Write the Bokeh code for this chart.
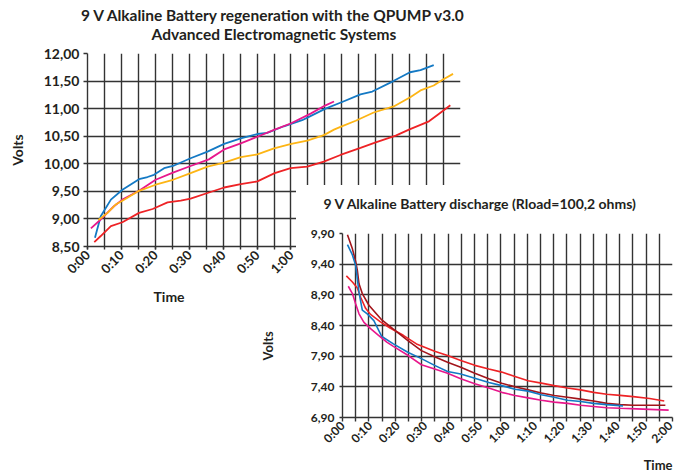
from math import pi
from bokeh.plotting import figure
from bokeh.models import FixedTicker, Title, Range1d, Div
from bokeh.layouts import column
from bokeh.embed import file_html
from bokeh.resources import INLINE

FONT = "Lato"
TEXT = "#231f20"
GRID = "#333333"

# ---------------- top chart: regeneration (time in minutes, volts) ----------------
regen_blue_t = [2.2, 3.9, 6.9, 10.3, 15.2, 17.7, 19.6, 22.6, 25.2, 30.4, 35.4, 40.3, 45.2, 50.1,
                53.0, 57.9, 63.3, 65.6, 70.2, 75.1, 80.5, 84.0, 90.2, 95.1, 98.2, 102.1]
regen_blue_v = [8.66, 9.05, 9.35, 9.53, 9.72, 9.76, 9.80, 9.92, 9.96, 10.10, 10.22, 10.36, 10.46, 10.54,
                10.56, 10.68, 10.79, 10.86, 11.00, 11.12, 11.26, 11.31, 11.50, 11.66, 11.70, 11.79]

regen_magenta_t = [1.0, 3.9, 7.8, 10.3, 15.2, 20.1, 25.2, 30.4, 35.8, 40.3, 45.2, 50.1, 55.2, 59.9,
                   65.8, 70.2, 72.7]
regen_magenta_v = [8.83, 8.99, 9.23, 9.35, 9.51, 9.71, 9.84, 9.96, 10.08, 10.26, 10.37, 10.49, 10.62, 10.73,
                   10.91, 11.06, 11.13]

regen_orange_t = [3.2, 5.9, 8.3, 10.3, 15.2, 20.1, 25.2, 30.4, 35.4, 40.3, 45.2, 50.1, 55.0, 60.1,
                  64.8, 69.7, 72.7, 74.6, 79.1, 84.4, 90.3, 95.3, 98.2, 102.1, 104.6, 107.8]
regen_orange_v = [8.98, 9.11, 9.26, 9.33, 9.51, 9.62, 9.71, 9.83, 9.95, 10.02, 10.12, 10.17, 10.28, 10.36,
                  10.42, 10.52, 10.62, 10.67, 10.78, 10.93, 11.04, 11.21, 11.33, 11.42, 11.52, 11.63]

regen_red_t = [2.0, 3.9, 6.9, 10.3, 15.2, 19.2, 23.6, 27.5, 30.4, 35.4, 40.3, 45.2, 50.1, 55.2,
               59.9, 64.8, 69.7, 74.6, 80.5, 85.0, 90.9, 94.8, 100.7, 103.5, 107.0]
regen_red_v = [8.58, 8.69, 8.87, 8.94, 9.11, 9.18, 9.30, 9.33, 9.37, 9.47, 9.57, 9.63, 9.68, 9.83,
               9.92, 9.95, 10.04, 10.16, 10.29, 10.39, 10.51, 10.62, 10.77, 10.90, 11.06]

top_y_ticks = [8.5, 9.0, 9.5, 10.0, 10.5, 11.0, 11.5, 12.0]
top_y_labels = ["8,50", "9,00", "9,50", "10,00", "10,50", "11,00", "11,50", "12,00"]
top_x_ticks = [0, 10, 20, 30, 40, 50, 60, 70, 80, 90, 100, 110]
top_x_labels = ["0:00", "0:10", "0:20", "0:30", "0:40", "0:50", "1:00", "1:10", "1:20", "1:30", "1:40", "1:50"]

# ---------------- bottom chart: discharge ----------------
dis_darkred_t = [1.8, 3.6, 4.8, 5.4, 6.0, 7.2, 9.6, 14.3, 18.5, 23.9, 28.7, 33.5, 38.2, 43.0, 48.1,
                 53.2, 57.9, 62.7, 67.5, 72.3, 77.0, 81.8, 86.6, 91.3, 96.1, 100.9, 105.7, 117.4]
dis_darkred_v = [9.88, 9.65, 9.44, 9.30, 9.08, 8.92, 8.73, 8.49, 8.34, 8.15, 7.99, 7.89, 7.80, 7.72, 7.62,
                 7.53, 7.46, 7.40, 7.35, 7.30, 7.26, 7.23, 7.20, 7.17, 7.13, 7.11, 7.10, 7.10]

dis_red_t = [1.4, 3.6, 5.4, 6.6, 8.4, 10.2, 13.8, 17.3, 22.1, 26.9, 33.5, 38.2, 43.0, 48.1, 53.2,
             57.9, 62.7, 67.5, 72.3, 77.0, 81.8, 86.6, 91.3, 96.1, 100.9, 105.7, 111.7, 117.0]
dis_red_v = [9.21, 9.11, 9.01, 8.86, 8.68, 8.58, 8.46, 8.36, 8.24, 8.10, 7.98, 7.91, 7.83, 7.75, 7.69,
             7.64, 7.57, 7.50, 7.46, 7.42, 7.38, 7.35, 7.31, 7.28, 7.26, 7.24, 7.21, 7.17]

dis_blue_t = [1.8, 3.6, 4.8, 5.4, 6.0, 7.2, 9.0, 11.4, 14.3, 18.5, 23.9, 28.7, 33.5, 38.2, 43.0,
              48.1, 53.2, 57.9, 62.7, 67.5, 72.3, 77.0, 81.8, 86.6, 91.3, 96.1, 102.0]
dis_blue_v = [9.72, 9.55, 9.38, 9.16, 8.94, 8.65, 8.59, 8.48, 8.22, 8.10, 7.96, 7.86, 7.75, 7.65, 7.61,
              7.54, 7.47, 7.42, 7.36, 7.33, 7.27, 7.23, 7.18, 7.16, 7.13, 7.11, 7.09]

dis_magenta_t = [2.1, 3.6, 4.8, 6.0, 7.8, 10.2, 13.1, 16.1, 18.5, 23.9, 28.7, 33.5, 38.2, 43.0, 48.1,
                 53.2, 57.9, 62.7, 67.5, 72.3, 77.0, 81.8, 86.6, 91.3, 96.1, 100.9, 106.9, 118.6]
dis_magenta_v = [9.04, 8.92, 8.75, 8.59, 8.45, 8.35, 8.24, 8.13, 8.06, 7.91, 7.76, 7.69, 7.62, 7.53, 7.45,
                 7.38, 7.31, 7.26, 7.22, 7.18, 7.15, 7.13, 7.10, 7.08, 7.06, 7.05, 7.04, 7.02]

bot_y_ticks = [6.9, 7.4, 7.9, 8.4, 8.9, 9.4, 9.9]
bot_y_labels = ["6,90", "7,40", "7,90", "8,40", "8,90", "9,40", "9,90"]
bot_x_ticks = [0, 10, 20, 30, 40, 50, 60, 70, 80, 90, 100, 110, 120]
bot_x_labels = ["0:00", "0:10", "0:20", "0:30", "0:40", "0:50", "1:00", "1:10", "1:20", "1:30",
                "1:40", "1:50", "2:00"]


def style_axis(ax, size):
    ax.axis_line_color = GRID
    ax.axis_line_width = 1.4
    ax.major_label_text_font = FONT
    ax.major_label_text_font_size = size
    ax.major_label_text_font_style = "bold"
    ax.major_label_text_color = TEXT
    ax.axis_label_text_font = FONT
    ax.axis_label_text_font_style = "bold"
    ax.axis_label_text_color = TEXT
    ax.major_tick_line_color = GRID
    ax.major_tick_line_width = 1.4
    ax.minor_tick_line_color = GRID
    ax.minor_tick_line_width = 1.4
    ax.major_tick_in = 0
    ax.minor_tick_in = 0


def mk_title(text, size, **kw):
    return Title(text=text, text_font=FONT, text_font_size=size, text_font_style="bold",
                 text_color=TEXT, **kw)


# ================= top figure =================
p1 = figure(width=472, height=312, x_range=Range1d(0, 110), y_range=Range1d(8.5, 12.0),
            output_backend="svg", toolbar_location=None, title=None,
            min_border_left=87, min_border_right=12, min_border_top=59, min_border_bottom=60)
p1.frame_align = False
p1.margin = (-6, 0, 0, 0)
p1.outline_line_color = None
p1.background_fill_color = "white"
p1.border_fill_color = "white"

top_grid_x = [5 * i for i in range(23)]
p1.xgrid.ticker = FixedTicker(ticks=top_grid_x)
p1.ygrid.ticker = FixedTicker(ticks=top_y_ticks)
for g in (p1.xgrid, p1.ygrid):
    g.grid_line_color = GRID
    g.grid_line_width = 1.4

style_axis(p1.xaxis[0], "13px")
p1.xaxis.ticker = FixedTicker(ticks=top_x_ticks, minor_ticks=top_grid_x)
p1.xaxis.major_label_overrides = {t: l for t, l in zip(top_x_ticks, top_x_labels)}
p1.xaxis.major_label_orientation = pi / 4
p1.xaxis.major_tick_out = 3
p1.xaxis.minor_tick_out = 3
p1.xaxis.major_label_standoff = 3

style_axis(p1.yaxis[0], "14px")
p1.yaxis.ticker = FixedTicker(ticks=top_y_ticks)
p1.yaxis.major_label_overrides = {t: l for t, l in zip(top_y_ticks, top_y_labels)}
p1.yaxis.major_tick_out = 4
p1.yaxis.minor_tick_out = 0
p1.yaxis.major_label_standoff = 4
p1.yaxis.axis_label = "Volts"
p1.yaxis.axis_label_text_font_size = "14px"
p1.yaxis.axis_label_standoff = 15

p1.line(regen_blue_t, regen_blue_v, line_color="#1479c4", line_width=1.8)
p1.line(regen_magenta_t, regen_magenta_v, line_color="#e8178c", line_width=1.8)
p1.line(regen_orange_t, regen_orange_v, line_color="#fdb515", line_width=1.8)
p1.line(regen_red_t, regen_red_v, line_color="#ee2326", line_width=1.8)

# second title line sits next to the frame, first line is stacked above it
p1.add_layout(mk_title("Advanced Electromagnetic Systems", "15.5px", align="center", standoff=21), "above")
p1.add_layout(mk_title("9 V Alkaline Battery regeneration with the QPUMP v3.0", "15.5px",
                       align="center", standoff=-22), "above")
p1.add_layout(mk_title("Time", "14px", align="left", offset=66, standoff=0), "below")

# ================= white backing for the inset chart =================
cover = Div(text="", width=379, height=288, margin=(-121, 0, 0, 296),
            styles={"background-color": "white", "position": "relative", "z-index": "1"})

# ================= bottom figure =================
p2 = figure(width=451, height=308, x_range=Range1d(0, 120), y_range=Range1d(6.9, 9.9),
            output_backend="svg", toolbar_location=None, title=None,
            min_border_left=118, min_border_right=3, min_border_top=68, min_border_bottom=56)
p2.frame_align = False
p2.margin = (-308, 0, 0, 224)
p2.styles = {"position": "relative", "z-index": "2"}
p2.outline_line_color = None
p2.background_fill_color = "white"
p2.border_fill_color = None

bot_grid_x = [120 * i / 25 for i in range(26)]
p2.xgrid.ticker = FixedTicker(ticks=bot_grid_x)
p2.ygrid.ticker = FixedTicker(ticks=bot_y_ticks)
for g in (p2.xgrid, p2.ygrid):
    g.grid_line_color = GRID
    g.grid_line_width = 1.4

style_axis(p2.xaxis[0], "12px")
p2.xaxis.ticker = FixedTicker(ticks=bot_x_ticks, minor_ticks=bot_grid_x)
p2.xaxis.major_label_overrides = {t: l for t, l in zip(bot_x_ticks, bot_x_labels)}
p2.xaxis.major_label_orientation = pi / 4
p2.xaxis.major_tick_line_color = None
p2.xaxis.major_tick_out = 4
p2.xaxis.minor_tick_out = 4
p2.xaxis.major_label_standoff = 2

style_axis(p2.yaxis[0], "12px")
p2.yaxis.ticker = FixedTicker(ticks=bot_y_ticks)
p2.yaxis.major_label_overrides = {t: l for t, l in zip(bot_y_ticks, bot_y_labels)}
p2.yaxis.major_tick_out = 3
p2.yaxis.minor_tick_out = 0
p2.yaxis.major_label_standoff = 5

p2.line(dis_red_t, dis_red_v, line_color="#ee2326", line_width=1.6)
p2.line(dis_darkred_t, dis_darkred_v, line_color="#a3151b", line_width=1.6)
p2.line(dis_blue_t, dis_blue_v, line_color="#1479c4", line_width=1.6)
p2.line(dis_magenta_t, dis_magenta_v, line_color="#e8178c", line_width=1.6)

p2.add_layout(mk_title("9 V Alkaline Battery discharge (Rload=100,2 ohms)", "14px",
                       align="left", offset=-19, standoff=44), "above")
p2.add_layout(mk_title("Volts", "13px", align="left", offset=57, standoff=64), "left")
p2.add_layout(mk_title("Time", "13px", align="right", offset=0, standoff=0), "below")

layout = column(p1, cover, p2)
open("out.html", "w").write(file_html(layout, INLINE))
